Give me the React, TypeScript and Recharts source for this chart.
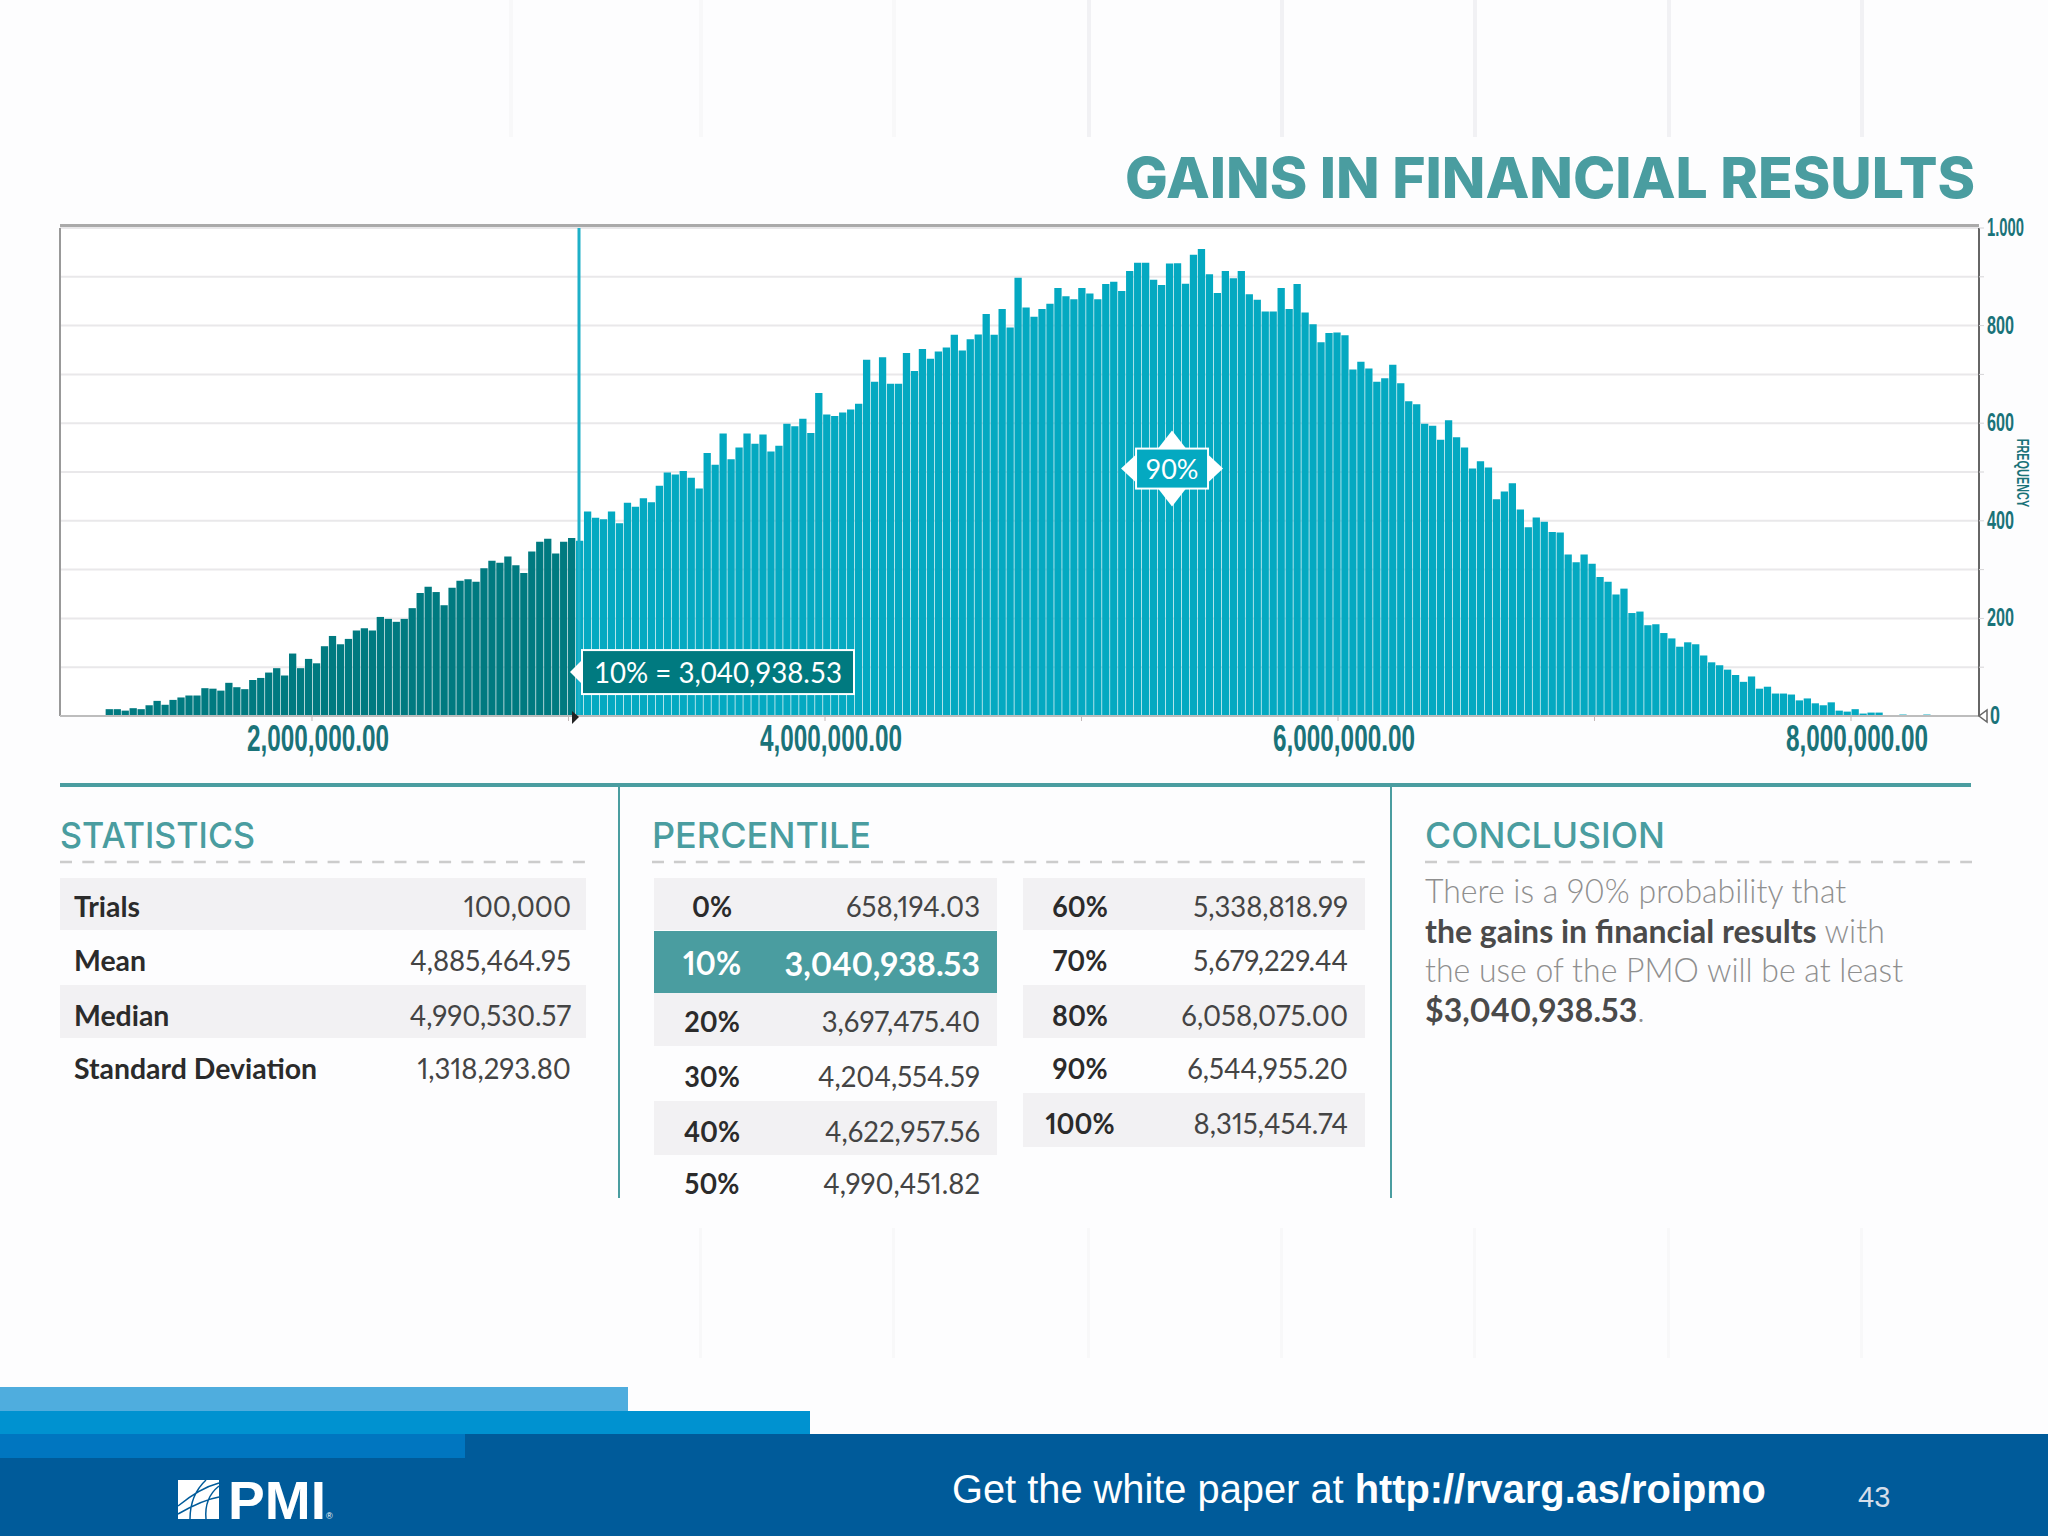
import React from 'react';
import { BarChart, Bar, Cell, XAxis, YAxis, CartesianGrid, ReferenceLine, ReferenceDot } from 'recharts';

// frequency per bin left to right
const frequencies = [
  14, 14, 11, 16, 14, 22, 31, 23, 33, 38, 42, 42, 57, 56, 52, 68, 59, 55, 74, 78,
  89, 98, 83, 128, 98, 117, 108, 143, 164, 147, 158, 175, 180, 175, 203, 199, 193, 199, 221, 252,
  265, 254, 227, 263, 277, 280, 275, 303, 318, 314, 327, 309, 293, 337, 357, 363, 333, 357, 365, 359,
  419, 406, 403, 419, 395, 437, 429, 446, 438, 472, 499, 495, 502, 488, 466, 539, 515, 579, 526, 550,
  579, 558, 577, 542, 554, 599, 594, 609, 580, 662, 618, 615, 622, 628, 640, 730, 685, 735, 681, 681,
  744, 707, 752, 732, 747, 755, 781, 749, 772, 782, 824, 781, 834, 796, 898, 837, 818, 834, 845, 877,
  860, 854, 877, 866, 854, 885, 890, 871, 912, 929, 929, 894, 883, 927, 928, 886, 945, 957, 905, 867,
  912, 897, 912, 864, 853, 829, 829, 877, 834, 885, 827, 803, 766, 785, 786, 780, 710, 726, 712, 685,
  692, 720, 682, 645, 639, 599, 595, 566, 606, 571, 550, 507, 522, 509, 444, 460, 477, 423, 387, 407,
  398, 377, 376, 331, 315, 331, 312, 285, 275, 249, 261, 211, 214, 186, 188, 170, 159, 142, 151, 147,
  124, 110, 104, 95, 84, 70, 81, 56, 60, 46, 46, 44, 32, 36, 26, 22, 28, 11, 9, 14,
  5, 7, 7, 2, 1, 3, 1, 1, 3,
];
const firstBin = 1211000;
const binWidth = 31080;
const p10 = 3040938.53;
const xTicks = [2000000, 3000000, 4000000, 5000000, 6000000, 7000000, 8000000];
const yTicks = [0, 100, 200, 300, 400, 500, 600, 700, 800, 900, 1000];

const statLabels = ['Trials', 'Mean', 'Median', 'Standard Deviation'];
const statValues = ['100,000', '4,885,464.95', '4,990,530.57', '1,318,293.80'];
const pctLabelsA = ['0%', '10%', '20%', '30%', '40%', '50%'];
const pctValuesA = ['658,194.03', '3,040,938.53', '3,697,475.40', '4,204,554.59', '4,622,957.56', '4,990,451.82'];
const pctLabelsB = ['60%', '70%', '80%', '90%', '100%'];
const pctValuesB = ['5,338,818.99', '5,679,229.44', '6,058,075.00', '6,544,955.20', '8,315,454.74'];

const data = frequencies.map((freq, i) => ({ bin: firstBin + i * binWidth, freq }));

const TEAL = '#4a9da0';
const DARK_BAR = '#007a80';
const LIGHT_BAR = '#04a9c1';
const AXIS_TEXT = '#1a7379';
const NARROW = '"Liberation Sans Narrow", "Liberation Sans", sans-serif';
const GOTHAM = 'Lato, sans-serif';

function Txt({ x, y, size, fill = '#333', weight = 400, anchor = 'start', sx = 1, font = GOTHAM, children }: any) {
  return (
    <text
      transform={`translate(${x},${y}) scale(${sx},1)`}
      fontSize={size}
      fill={fill}
      fontWeight={weight}
      fontFamily={font}
      textAnchor={anchor}
      dominantBaseline="central"
      style={{ fontVariantNumeric: 'proportional-nums' }}
    >
      {children}
    </text>
  );
}

function Heading({ x, w, children }: any) {
  return (
    <text x={x} y={835} fontSize={36} fontWeight={500} fill={TEAL} fontFamily="Inter, sans-serif" dominantBaseline="central" textLength={w} lengthAdjust="spacingAndGlyphs">
      {children}
    </text>
  );
}

function XTick({ x, y, payload }: any) {
  if (payload.value % 2000000 !== 0) return null;
  const label = payload.value.toLocaleString('en-US', { minimumFractionDigits: 2 });
  return (
    <text x={x + 6} y={y + 15} fontSize={36} fontWeight={700} fill={AXIS_TEXT} fontFamily={NARROW} textAnchor="middle" dominantBaseline="central" textLength={142} lengthAdjust="spacingAndGlyphs">
      {label}
    </text>
  );
}

function YTick({ x, y, payload }: any) {
  const v = payload.value;
  if (v % 200 !== 0) return null;
  const label = v === 1000 ? '1.000' : String(v);
  return (
    <g>
      {v === 0 && <path d={`M${x} ${y - 6} L${x} ${y + 6} L${x - 8} ${y} Z`} fill="#fff" stroke="#666" strokeWidth={1.5} />}
      <text x={x + (v === 0 ? 3 : 0)} y={y - 1} fontSize={25} fontWeight={700} fill={AXIS_TEXT} fontFamily={NARROW} dominantBaseline="central" textLength={v === 1000 ? 37 : v === 0 ? 10 : 27} lengthAdjust="spacingAndGlyphs">
        {label}
      </text>
    </g>
  );
}

function P10Flag({ cx, cy }: any) {
  return (
    <g>
      <path d={`M${cx - 9} ${cy} L${cx + 3} ${cy - 12} L${cx + 3} ${cy + 12} Z`} fill="#fff" />
      <rect x={cx + 3} y={cy - 22} width={272} height={44} fill={DARK_BAR} stroke="#fff" strokeWidth={2} />
      <text x={cx + 139} y={cy} fontSize={28} fill="#fff" fontFamily={GOTHAM} textAnchor="middle" dominantBaseline="central" textLength={248} lengthAdjust="spacingAndGlyphs">
        10% = 3,040,938.53
      </text>
    </g>
  );
}

function P90Flag({ cx, cy }: any) {
  return (
    <g>
      <path d={`M${cx - 51} ${cy} L${cx - 36} ${cy - 14} L${cx - 36} ${cy + 14} Z`} fill="#fff" />
      <path d={`M${cx + 51} ${cy} L${cx + 36} ${cy - 14} L${cx + 36} ${cy + 14} Z`} fill="#fff" />
      <path d={`M${cx} ${cy - 38} L${cx - 14} ${cy - 20} L${cx + 14} ${cy - 20} Z`} fill="#fff" />
      <path d={`M${cx} ${cy + 38} L${cx - 14} ${cy + 20} L${cx + 14} ${cy + 20} Z`} fill="#fff" />
      <rect x={cx - 36} y={cy - 20} width={72} height={40} fill={LIGHT_BAR} stroke="#fff" strokeWidth={2} />
      <text x={cx} y={cy} fontSize={27} fill="#fff" fontFamily={GOTHAM} textAnchor="middle" dominantBaseline="central">
        90%
      </text>
    </g>
  );
}

function Marker({ cx, cy }: any) {
  return <path d={`M${cx - 7} ${cy - 5} L${cx} ${cy + 1} L${cx - 7} ${cy + 8} Z`} fill="#222" />;
}

const stripeX = [509, 699, 892, 1087, 1280, 1473, 1667, 1860];

function Overlay() {
  const statY = [906, 960, 1015, 1068];
  const pctAY = [906, 963, 1021, 1076, 1131, 1183];
  const pctBY = [906, 960, 1015, 1068, 1123];
  return (
    <svg width={2048} height={1536} style={{ position: 'absolute', left: 0, top: 0, pointerEvents: 'none' }}>
      {/* title */}
      <Txt x={1125} y={177} size={57} weight={800} fill={TEAL} font="Inter, sans-serif">
        GAINS IN FINANCIAL RESULTS
      </Txt>
      <text transform="translate(2022,473) rotate(90) scale(0.68,1)" fontSize={16} fontWeight={700} fill={AXIS_TEXT} fontFamily={NARROW} textAnchor="middle" dominantBaseline="central">
        FREQUENCY
      </text>

      {/* plot frame top edge */}
      <rect x={60} y={224} width={1919} height={3} fill="#aaa" />

      {/* section rules */}
      <rect x={60} y={783} width={1911} height={4} fill={TEAL} />
      <rect x={618} y={787} width={2} height={411} fill={TEAL} />
      <rect x={1390} y={787} width={2} height={411} fill={TEAL} />
      <line x1={60} x2={586} y1={862} y2={862} stroke="#ccc" strokeWidth={2.5} strokeDasharray="12 10.3" />
      <line x1={652} x2={1365} y1={862} y2={862} stroke="#ccc" strokeWidth={2.5} strokeDasharray="12 9.9" />
      <line x1={1425} x2={1972} y1={862} y2={862} stroke="#ccc" strokeWidth={2.5} strokeDasharray="12 10.3" />
      <Heading x={60} w={195}>STATISTICS</Heading>
      <Heading x={652} w={219}>PERCENTILE</Heading>
      <Heading x={1425} w={240}>CONCLUSION</Heading>

      {/* statistics */}
      <rect x={60} y={878} width={526} height={52} fill="#f2f1f3" />
      <rect x={60} y={985} width={526} height={53} fill="#f2f1f3" />
      {statLabels.map((label, i) => (
        <Txt key={label} x={74} y={statY[i]} size={29} fill="#2b2b2b" weight={700} sx={0.98}>{label}</Txt>
      ))}
      {statValues.map((value, i) => (
        <Txt key={value} x={571} y={statY[i]} size={29} fill="#444" anchor="end" sx={0.95}>{value}</Txt>
      ))}

      {/* percentiles */}
      <rect x={654} y={878} width={343} height={52} fill="#f2f1f3" />
      <rect x={654} y={993} width={343} height={53} fill="#f2f1f3" />
      <rect x={654} y={1101} width={343} height={54} fill="#f2f1f3" />
      <rect x={654} y={931} width={343} height={62} fill={TEAL} />
      {pctLabelsA.map((label, i) => (
        <Txt key={label} x={712} y={pctAY[i]} size={i === 1 ? 33 : 29} fill={i === 1 ? '#fff' : '#2b2b2b'} weight={700} anchor="middle" sx={0.93}>{label}</Txt>
      ))}
      {pctValuesA.map((value, i) => (
        <Txt key={value} x={980} y={pctAY[i]} size={i === 1 ? 33 : 29} fill={i === 1 ? '#fff' : '#444'} weight={i === 1 ? 700 : 400} anchor="end" sx={i === 1 ? 0.98 : 0.95}>{value}</Txt>
      ))}
      <rect x={1023} y={878} width={342} height={52} fill="#f2f1f3" />
      <rect x={1023} y={985} width={342} height={53} fill="#f2f1f3" />
      <rect x={1023} y={1093} width={342} height={54} fill="#f2f1f3" />
      {pctLabelsB.map((label, i) => (
        <Txt key={label} x={1080} y={pctBY[i]} size={29} fill="#2b2b2b" weight={700} anchor="middle" sx={0.93}>{label}</Txt>
      ))}
      {pctValuesB.map((value, i) => (
        <Txt key={value} x={1348} y={pctBY[i]} size={29} fill="#444" anchor="end" sx={0.95}>{value}</Txt>
      ))}

      {/* conclusion */}
      <Txt x={1425} y={890} size={33} fill="#8f8f8f" weight={300} sx={0.97}>There is a 90% probability that</Txt>
      <Txt x={1425} y={930} size={33} fill="#8f8f8f" weight={300} sx={0.97}>
        <tspan fontWeight={700} fill="#4a4a4a">the gains in financial results</tspan> with
      </Txt>
      <Txt x={1425} y={969} size={33} fill="#8f8f8f" weight={300} sx={0.97}>the use of the PMO will be at least</Txt>
      <Txt x={1425} y={1009} size={33} fill="#8f8f8f" weight={300} sx={0.97}>
        <tspan fontWeight={700} fill="#4a4a4a">$3,040,938.53</tspan>.
      </Txt>

      {/* footer */}
      <rect x={0} y={1387} width={628} height={24} fill="#4fadde" />
      <rect x={0} y={1411} width={810} height={23} fill="#0092d0" />
      <rect x={0} y={1434} width={2048} height={102} fill="#005b9a" />
      <rect x={0} y={1434} width={465} height={24} fill="#0076c0" />
      <text x={952} y={1489} fontSize={39.8} fill="#fff" fontFamily="Liberation Sans, sans-serif" dominantBaseline="central">
        Get the white paper at <tspan fontWeight={700}>http://rvarg.as/roipmo</tspan>
      </text>
      <text x={1858} y={1497} fontSize={29} fill="#d5deea" fontFamily="Liberation Sans, sans-serif" dominantBaseline="central">43</text>

      {/* PMI mark */}
      <rect x={178} y={1480} width={41} height={39} fill="#fff" />
      <path d="M178 1506 Q200 1488 219 1483 M178 1514 Q202 1500 219 1497 M190 1519 Q190 1495 206 1480 M206 1519 Q204 1498 219 1486" fill="none" stroke="#005b9a" strokeWidth={1.5} />
      <text x={228} y={1500} fontSize={54} fontWeight={700} fill="#fff" fontFamily="Liberation Sans, sans-serif" dominantBaseline="central" textLength={98} lengthAdjust="spacingAndGlyphs">PMI</text>
      <text x={326} y={1519} fontSize={9} fill="#fff" fontFamily="Liberation Sans, sans-serif">®</text>
    </svg>
  );
}

export default function App() {
  return (
    <div style={{ position: 'absolute', left: 0, top: 0, width: 2048, height: 1536, background: '#fdfdfe', overflow: 'hidden' }}>
      {stripeX.map((x, i) => (
        <React.Fragment key={x}>
          <div style={{ position: 'absolute', left: x, top: 0, width: 4, height: 137, background: i < 3 ? '#f8f8f9' : '#f1f1f4' }} />
          {i > 0 && <div style={{ position: 'absolute', left: x, top: 1228, width: 3, height: 130, background: '#f8f8f9' }} />}
        </React.Fragment>
      ))}
      <div style={{ position: 'absolute', left: 60, top: 225, width: 1919, height: 491, background: '#fff' }} />
      <div style={{ position: 'absolute', left: 0, top: 0 }}>
        <BarChart width={2048} height={800} data={data} barSize={7.3} margin={{ top: 228, right: 0, bottom: 0, left: 60 }}>
          <CartesianGrid horizontal vertical={false} stroke="#e9e8ea" strokeWidth={2} />
          <XAxis
            type="number"
            dataKey="bin"
            domain={[1017544, 8499025]}
            ticks={xTicks}
            height={84}
            interval={0}
            tick={<XTick />}
            tickSize={5}
            tickLine={{ stroke: '#c2b8b8' }}
            axisLine={{ stroke: '#bdbdbd', strokeWidth: 2 }}
          />
          <YAxis
            orientation="right"
            domain={[0, 1000]}
            ticks={yTicks}
            width={69}
            interval={0}
            tick={<YTick />}
            tickSize={5}
            tickMargin={3}
            tickLine={{ stroke: '#d5d4d7' }}
            axisLine={{ stroke: '#666', strokeWidth: 2 }}
          />
          <Bar dataKey="freq" isAnimationActive={false}>
            {data.map((d) => (
              <Cell key={d.bin} fill={d.bin < p10 ? DARK_BAR : LIGHT_BAR} />
            ))}
          </Bar>
          <ReferenceLine x={1017544} stroke="#999" strokeWidth={2} />
          <ReferenceLine x={p10} stroke="#1eb0c8" strokeWidth={3} />
          <ReferenceDot x={p10} y={90} shape={<P10Flag />} />
          <ReferenceDot x={5353000} y={507} shape={<P90Flag />} />
          <ReferenceDot x={p10} y={0} shape={<Marker />} />
        </BarChart>
      </div>
      <Overlay />
    </div>
  );
}
